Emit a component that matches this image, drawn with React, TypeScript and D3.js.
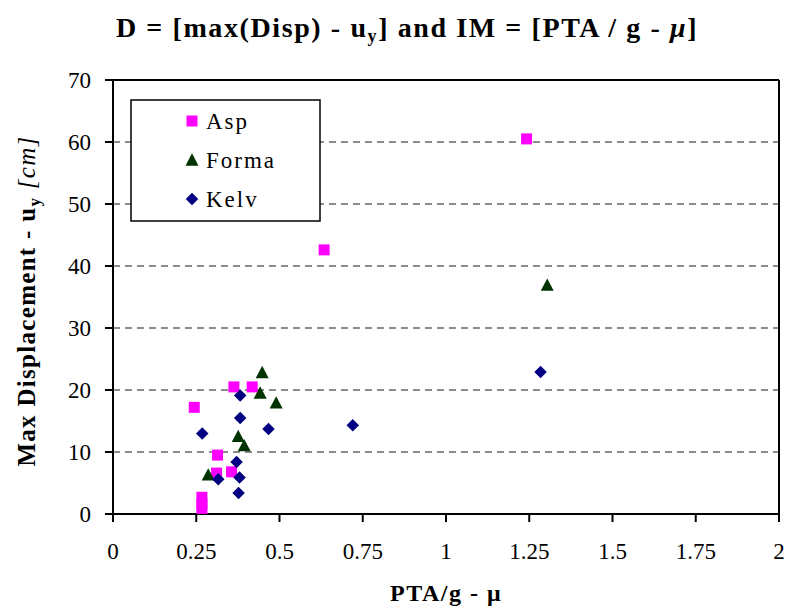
import React from "react";
import * as d3 from "d3";

const xTickValues = [0, 0.25, 0.5, 0.75, 1, 1.25, 1.5, 1.75, 2];
const xTickLabels = ["0", "0.25", "0.5", "0.75", "1", "1.25", "1.5", "1.75", "2"];
const yTickValues = [0, 10, 20, 30, 40, 50, 60, 70];
const gridValues = [10, 20, 30, 40, 50, 60];

const seriesNames = ["Asp", "Forma", "Kelv"];
const seriesColors = ["#FF00FF", "#003300", "#000080"];

const aspX = [1.242, 0.634, 0.363, 0.418, 0.244, 0.314, 0.356, 0.311, 0.267, 0.267, 0.267];
const aspY = [60.5, 42.6, 20.5, 20.5, 17.2, 9.5, 6.8, 6.6, 2.7, 1.6, 0.9];

const formaX = [1.304, 0.448, 0.442, 0.49, 0.376, 0.394, 0.286];
const formaY = [37.0, 22.9, 19.6, 18.0, 12.6, 11.1, 6.4];

const kelvX = [1.284, 0.72, 0.382, 0.382, 0.268, 0.467, 0.371, 0.38, 0.316, 0.377];
const kelvY = [22.9, 14.3, 19.1, 15.5, 13.0, 13.7, 8.4, 5.9, 5.6, 3.4];

const FONT = "'Liberation Serif', 'Times New Roman', serif";

// custom marker shapes (bbox-centred like Excel)
const squareType = {
  draw(ctx: any, size: number) {
    const s = Math.sqrt(size) / 2;
    ctx.moveTo(-s, -s);
    ctx.lineTo(s, -s);
    ctx.lineTo(s, s);
    ctx.lineTo(-s, s);
    ctx.closePath();
  },
};
const triangleType = {
  draw(ctx: any, size: number) {
    const w = Math.sqrt(size);
    const h = w * 0.95;
    ctx.moveTo(0, -h / 2);
    ctx.lineTo(w / 2, h / 2);
    ctx.lineTo(-w / 2, h / 2);
    ctx.closePath();
  },
};
const diamondType = {
  draw(ctx: any, size: number) {
    const r = Math.sqrt(size) / 2;
    ctx.moveTo(0, -r);
    ctx.lineTo(r, 0);
    ctx.lineTo(0, r);
    ctx.lineTo(-r, 0);
    ctx.closePath();
  },
};

const squarePath = d3.symbol().type(squareType as any).size(11 * 11)() as string;
const trianglePath = d3.symbol().type(triangleType as any).size(13 * 13)() as string;
const diamondPath = d3.symbol().type(diamondType as any).size(12.5 * 12.5)() as string;

export default function App() {
  const left = 113;
  const right = 779;
  const top = 80;
  const bottom = 514;

  const x = d3.scaleLinear().domain([0, 2]).range([left, right]);
  const y = d3.scaleLinear().domain([0, 70]).range([bottom, top]);

  const series = [
    { xs: aspX, ys: aspY, path: squarePath, color: seriesColors[0] },
    { xs: formaX, ys: formaY, path: trianglePath, color: seriesColors[1] },
    { xs: kelvX, ys: kelvY, path: diamondPath, color: seriesColors[2] },
  ];

  const legendRows = [121, 159.5, 199];

  return (
    <svg
      width={788}
      height={615}
      style={{ position: "absolute", left: 0, top: 0, background: "#fff" }}
      fontFamily={FONT}
    >
      <rect x={0} y={0} width={788} height={615} fill="#fff" />

      {/* Title */}
      <text x={407} y={37} textAnchor="middle" fontSize={28} fontWeight="bold" letterSpacing={1.6} fill="#000">
        <tspan>D = [max(Disp) - u</tspan>
        <tspan fontSize={18} dy={5}>y</tspan>
        <tspan dy={-5}>] and IM = [PTA / g - </tspan>
        <tspan fontStyle="italic">μ</tspan>
        <tspan>]</tspan>
      </text>

      {/* grid */}
      {gridValues.map((v) => (
        <line
          key={"g" + v}
          x1={left}
          x2={right}
          y1={y(v)}
          y2={y(v)}
          stroke="#8c8c8c"
          strokeWidth={2}
          strokeDasharray="7 5"
        />
      ))}

      {/* frame */}
      <line x1={left} x2={right} y1={top} y2={top} stroke="#000" strokeWidth={2} />
      <line x1={right} x2={right} y1={top} y2={bottom} stroke="#000" strokeWidth={2} />
      <line x1={left} x2={left} y1={top - 1} y2={bottom} stroke="#000" strokeWidth={2} />
      <line x1={left - 8} x2={right + 1} y1={bottom} y2={bottom} stroke="#000" strokeWidth={2} />

      {/* y ticks */}
      {yTickValues.map((v) => (
        <g key={"y" + v}>
          <line x1={left - 8} x2={left} y1={y(v)} y2={y(v)} stroke="#000" strokeWidth={2} />
          <text x={91} y={y(v)} dy="0.35em" textAnchor="end" fontSize={23} fill="#000">
            {String(v)}
          </text>
        </g>
      ))}

      {/* x ticks */}
      {xTickValues.map((v, i) => (
        <g key={"x" + v}>
          <line x1={x(v)} x2={x(v)} y1={bottom} y2={bottom + 8} stroke="#000" strokeWidth={2} />
          <text x={x(v)} y={559} textAnchor="middle" fontSize={23} fill="#000">
            {xTickLabels[i]}
          </text>
        </g>
      ))}

      {/* points */}
      {series.map((s, si) => (
        <g key={"s" + si}>
          {s.xs.map((xv, i) => (
            <path key={i} d={s.path} transform={`translate(${x(xv)},${y(s.ys[i])})`} fill={s.color} />
          ))}
        </g>
      ))}

      {/* legend */}
      <rect x={131} y={100} width={189} height={121} fill="#fff" stroke="#000" strokeWidth={1.5} />
      {seriesNames.map((name, i) => (
        <g key={"l" + name}>
          <path d={series[i].path} transform={`translate(192,${legendRows[i]})`} fill={series[i].color} />
          <text x={206} y={legendRows[i] + 8} fontSize={23} letterSpacing={2} fill="#000">
            {name}
          </text>
        </g>
      ))}

      {/* x axis title */}
      <text x={446} y={601} textAnchor="middle" fontSize={24} fontWeight="bold" letterSpacing={1.5} fill="#000">
        PTA/g - μ
      </text>

      {/* y axis title */}
      <text
        transform="translate(35,301) rotate(-90)"
        textAnchor="middle"
        fontSize={25}
        fontWeight="bold"
        letterSpacing={1.3}
        fill="#000"
      >
        <tspan>Max Displacement - u</tspan>
        <tspan fontSize={17} dy={5}>y</tspan>
        <tspan dy={-5} fontWeight="normal" fontStyle="italic">{"  [cm]"}</tspan>
      </text>
    </svg>
  );
}
